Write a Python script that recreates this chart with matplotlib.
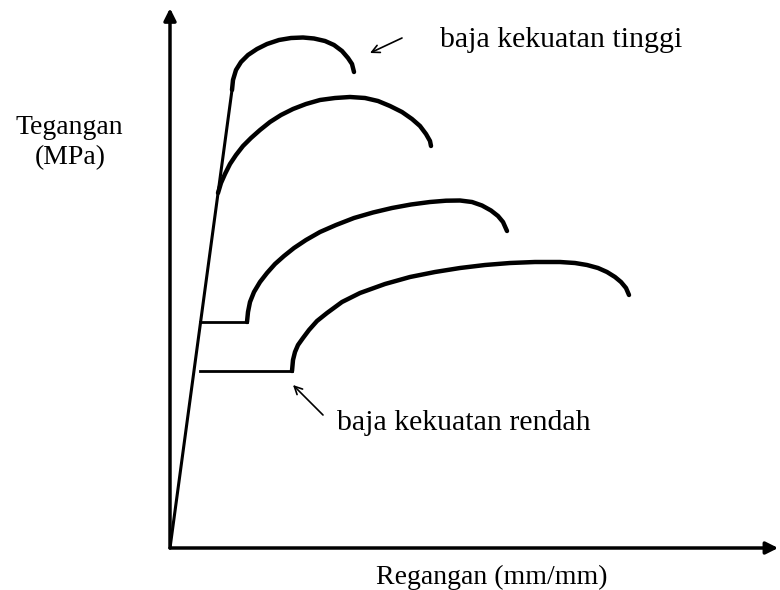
import matplotlib.pyplot as plt

# regangan (strain) / tegangan (stress), arbitrary units
elastic_x = [0, 62]
elastic_y = [0, 458]

# baja kekuatan tinggi
c1_x = [62, 63, 66, 71, 78, 87, 97, 109, 121, 133, 144, 155, 164, 172, 178, 182, 184]
c1_y = [458, 468, 478, 486, 493, 499, 504, 508, 510, 510.5, 509.5, 507, 503, 497, 490, 484, 476]

c2_x = [48, 51, 55, 60, 66, 73, 81, 90, 100, 111, 123, 136, 150, 165, 180, 195, 208, 220, 232, 242, 250, 256, 260, 261]
c2_y = [355, 365, 374, 384, 393, 402, 410, 418, 426, 433, 439, 444, 448, 450, 451, 450, 447, 442, 436, 429, 422, 414, 407, 402]

c3_plat_x = [30, 77]
c3_plat_y = [226, 226]
c3_x = [77, 78, 80, 84, 90, 97, 105, 114, 124, 136, 150, 166, 184, 203, 222, 241, 260, 276, 290, 302, 312, 321, 328, 333, 337]
c3_y = [226, 236, 246, 256, 266, 275, 284, 292, 300, 308, 316, 323, 330, 335.5, 340, 343.5, 346, 347.3, 347.5, 346, 342.5, 337.5, 332, 326, 317]

# baja kekuatan rendah
c4_plat_x = [30, 122]
c4_plat_y = [177, 177]
c4_x = [122, 123, 125, 128, 133, 139, 147, 157, 172, 190, 215, 240, 265, 290, 315, 340, 365, 390, 405, 417, 428, 437, 445, 451, 456, 459]
c4_y = [177, 188, 196, 203, 210, 218, 227, 235, 246, 255, 264, 271, 276, 280, 283, 285, 286, 286, 285, 283, 280, 276, 271, 266, 260, 253]

plt.rcParams['font.family'] = ['Liberation Serif', 'DejaVu Serif']

fig = plt.figure(figsize=(7.8, 5.9), dpi=100)
ax = fig.add_axes([170 / 780, 42 / 590, 610 / 780, 548 / 590])
ax.set_xlim(0, 610)
ax.set_ylim(0, 548)
ax.axis('off')

# axes with arrows
arrow = dict(arrowstyle='-|>', lw=2.5, color='black', mutation_scale=18, shrinkA=0, shrinkB=0)
ax.annotate('', xy=(0, 0.985), xytext=(0, 0), xycoords='axes fraction', arrowprops=arrow, annotation_clip=False)
ax.annotate('', xy=(0.997, 0), xytext=(0, 0), xycoords='axes fraction', arrowprops=arrow, annotation_clip=False)

curve = dict(color='black', lw=3.2, solid_capstyle='round', solid_joinstyle='round')
ax.plot(elastic_x, elastic_y, color='black', lw=2.2, solid_capstyle='round')
ax.plot(c1_x, c1_y, **curve)
ax.plot(c2_x, c2_y, **curve)
ax.plot(c3_plat_x, c3_plat_y, color='black', lw=2)
ax.plot(c3_x, c3_y, **curve)
ax.plot(c4_plat_x, c4_plat_y, color='black', lw=2)
ax.plot(c4_x, c4_y, **curve)

# labels
fs = 20
fig.text(15 / 780, 1 - 128 / 590, 'Tegangan', fontsize=fs, va='center', ha='left')
fig.text(70 / 780, 1 - 158 / 590, '(MPa)', fontsize=fs, va='center', ha='center')
fig.text(492 / 780, 1 - 577 / 590, 'Regangan (mm/mm)', fontsize=fs, va='center', ha='center')

thin = dict(arrowstyle='->', lw=1.2, color='black', mutation_scale=14, shrinkA=0, shrinkB=0)
fig.text(440 / 780, 1 - 40 / 590, 'baja kekuatan tinggi', fontsize=21.5, va='center', ha='left')
ax.annotate('', xy=(200, 495), xytext=(232, 510), arrowprops=thin)
fig.text(337 / 780, 1 - 423 / 590, 'baja kekuatan rendah', fontsize=21.5, va='center', ha='left')
ax.annotate('', xy=(123, 163), xytext=(153, 133), arrowprops=thin)

fig.savefig('out.png', dpi=100)
